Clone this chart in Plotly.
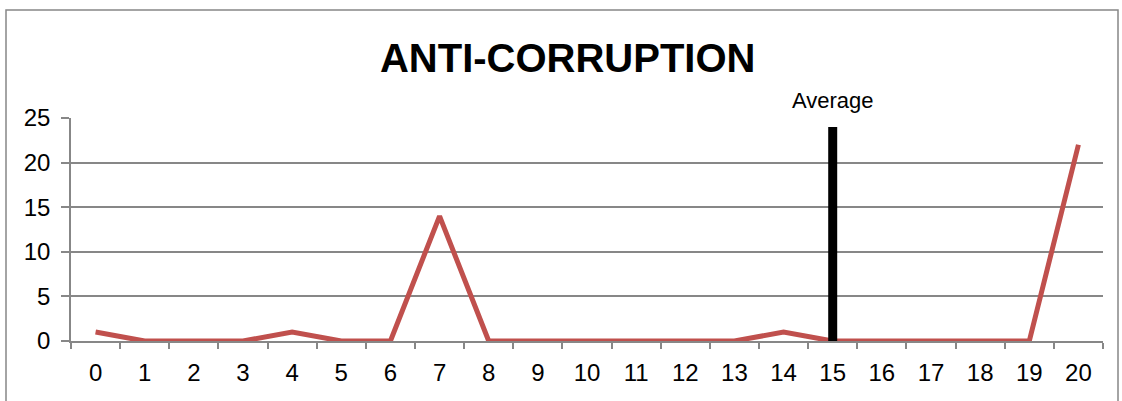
import plotly.graph_objects as go

categories = [str(i) for i in range(21)]
values = [1, 0, 0, 0, 1, 0, 0, 14, 0, 0, 0, 0, 0, 0, 1, 0, 0, 0, 0, 0, 22]
avg_category = "15"
avg_height = 24
title_text = "ANTI-CORRUPTION"

FONT = "Liberation Sans Narrow, Arial Narrow, Liberation Sans, Arial, sans-serif"
GRID = "#878787"

fig = go.Figure()

fig.add_trace(go.Scatter(
    x=categories, y=values, mode="lines",
    line=dict(color="#C0504D", width=5),
    hoverinfo="skip", showlegend=False,
))

# average marker
fig.add_trace(go.Scatter(
    x=[avg_category, avg_category], y=[0, avg_height], mode="lines",
    line=dict(color="black", width=9),
    hoverinfo="skip", showlegend=False,
))

fig.add_annotation(
    x=avg_category, y=25, xref="x", yref="y", text="Average",
    showarrow=False, yanchor="bottom", yshift=3,
    font=dict(family=FONT, size=22, color="black"),
)

fig.update_layout(
    width=1122, height=401,
    margin=dict(l=71, r=19, t=118, b=60),
    paper_bgcolor="white", plot_bgcolor="white",
    title=dict(text="<b>" + title_text + "</b>", x=0.506, xanchor="center",
               y=0.855, yanchor="middle",
               font=dict(family=FONT, size=40, color="black")),
    font=dict(family=FONT, size=24, color="black"),
)

fig.update_xaxes(
    type="category", range=[-0.5, 20.5],
    showgrid=False, showline=True, linecolor=GRID, linewidth=1.5,
    ticks="outside", tickson="boundaries", ticklen=6, tickcolor=GRID, tickwidth=1.5,
    ticklabelstandoff=9,
    tickfont=dict(family=FONT, size=24), zeroline=False,
)
fig.update_yaxes(
    range=[0, 25], tickvals=[0, 5, 10, 15, 20, 25],
    showgrid=True, gridcolor=GRID, gridwidth=1.5,
    showline=True, linecolor=GRID, linewidth=1.5,
    ticks="outside", ticklen=8, tickcolor=GRID, tickwidth=1.5,
    ticklabelstandoff=6,
    tickfont=dict(family=FONT, size=24), zeroline=False,
)

# outer chart border
fig.add_shape(type="rect", xref="paper", yref="paper",
              x0=(6 - 71) / 1032, x1=(1118 - 71) / 1032,
              y0=(341 - 420) / 223, y1=(341 - 10) / 223,
              line=dict(color=GRID, width=1.5), layer="below")

fig.write_html("out.html", config={"displayModeBar": False},
               post_script="document.body.style.margin='0';")
